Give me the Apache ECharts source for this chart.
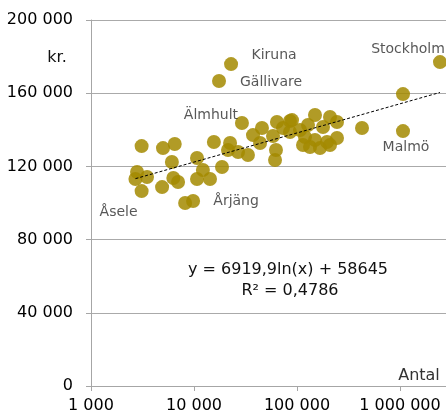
<!DOCTYPE html>
<html><head><meta charset="utf-8">
<script src="https://cdn.jsdelivr.net/npm/echarts@6/dist/echarts.min.js"></script>
<style>html,body{margin:0;padding:0;background:#fff}#c{width:446px;height:419px}</style>
</head><body><div id="c"></div>
<script>
// Data
const xValues = [3100, 5000, 6500, 10700, 6100, 2800, 3500, 2700, 3100, 4900,
  6300, 7000, 10700, 12200, 14300, 8200, 9800, 18700, 15600, 22400,
  21400, 26800, 33400, 29200, 37400, 45700, 63900, 85500, 73100, 58500,
  61200, 62500, 22900, 17500, 2445000, 1069000, 1069000, 427600, 149500, 209100,
  244500, 127900, 178800, 119600, 244500, 149500, 195600, 133700, 167200, 209100,
  89400, 85500, 106900, 114400, 43800];
const yValues = [131100, 130000, 132200, 124600, 122400, 116900, 114200, 113100, 106500, 108700,
  113700, 111500, 113100, 118000, 113100, 100000, 101100, 119700, 133300, 132800,
  129000, 127900, 126200, 143700, 137100, 141000, 144300, 144800, 141000, 136600,
  123500, 129000, 175900, 166700, 177000, 159500, 139300, 141000, 148100, 147000,
  144300, 142600, 141500, 136100, 135500, 134400, 133300, 130600, 130000, 131700,
  145300, 138800, 139900, 131700, 132800];
const pointNames = ['', '', '', '', '', '', '', '', 'Åsele', '',
  '', '', '', '', '', '', 'Årjäng', '', '', '',
  '', '', '', 'Älmhult', '', '', '', '', '', '',
  '', '', 'Kiruna', 'Gällivare', 'Stockholm', '', 'Malmö', '', '', '',
  '', '', '', '', '', '', '', '', '', '',
  '', '', '', '', ''];
const trendX = [2700, 2445000];
const trendY = [113300, 160400];
const equationLines = ['y = 6919,9ln(x) + 58645', 'R² = 0,4786'];
const yAxisTitle = 'kr.';
const xAxisTitle = 'Antal';

// Styling
const FONT = 'DejaVu Sans';
const SYM = 14;
const labelOffsets = {
  'Kiruna': [43, -9], 'Gällivare': [52, 1], 'Stockholm': [-32, -13], 'Malmö': [3, 16],
  'Älmhult': [-31, -8], 'Årjäng': [43, 0], 'Åsele': [-23, 21]
};
const fmt = v => String(Math.round(v)).replace(/\B(?=(\d{3})+(?!\d))/g, ' ');

const data = xValues.map((x, i) => {
  const item = { value: [x, yValues[i]] };
  const n = pointNames[i];
  if (n) {
    const o = labelOffsets[n];
    item.label = {
      show: true, formatter: n, position: [SYM / 2 + o[0], SYM / 2 + o[1]],
      align: 'center', verticalAlign: 'middle',
      color: '#3a3a3a', fontFamily: FONT, fontSize: 14
    };
  }
  return item;
});

const chart = echarts.init(document.getElementById('c'), null, { renderer: 'canvas' });
chart.setOption({
  animation: false,
  backgroundColor: '#ffffff',
  grid: { left: 91, top: 20, right: -57, bottom: 33, containLabel: false, outerBoundsMode: 'none' },
  xAxis: {
    type: 'log', logBase: 10, min: 1000, max: 10000000,
    axisLine: { show: true, lineStyle: { color: '#a6a6a6', width: 1 } },
    axisTick: { show: true, length: 5, lineStyle: { color: '#a6a6a6' } },
    splitLine: { show: false },
    axisLabel: { formatter: fmt, fontFamily: FONT, fontSize: 16, color: '#000', margin: 12 }
  },
  yAxis: {
    type: 'value', min: 0, max: 200000, interval: 40000,
    axisLine: { show: true, lineStyle: { color: '#a6a6a6', width: 1 } },
    axisTick: { show: true, length: 5, lineStyle: { color: '#a6a6a6' } },
    splitLine: { show: true, lineStyle: { color: '#aaaaaa', width: 1 } },
    axisLabel: { formatter: fmt, fontFamily: FONT, fontSize: 16, color: '#000', margin: 18 }
  },
  series: [
    {
      type: 'scatter', data: data, symbolSize: SYM, z: 2,
      itemStyle: { color: '#A38A00', opacity: 0.85 },
      labelLayout: { hideOverlap: false }
    },
    {
      type: 'line', data: trendX.map((x, i) => [x, trendY[i]]), symbol: 'none', z: 3,
      lineStyle: { color: '#000', width: 1, type: [3, 2] }
    }
  ],
  graphic: [
    { type: 'text', x: 57, y: 58, style: { text: yAxisTitle, font: '16px "DejaVu Sans"', fill: '#111', align: 'center', verticalAlign: 'middle' } },
    { type: 'text', x: 419, y: 376, style: { text: xAxisTitle, font: '16px "DejaVu Sans"', fill: '#333', align: 'center', verticalAlign: 'middle' } },
    { type: 'text', x: 288, y: 270, style: { text: equationLines[0], font: '16px "DejaVu Sans"', fill: '#111', align: 'center', verticalAlign: 'middle' } },
    { type: 'text', x: 290, y: 291, style: { text: equationLines[1], font: '16px "DejaVu Sans"', fill: '#111', align: 'center', verticalAlign: 'middle' } }
  ]
});
</script>
</body></html>
